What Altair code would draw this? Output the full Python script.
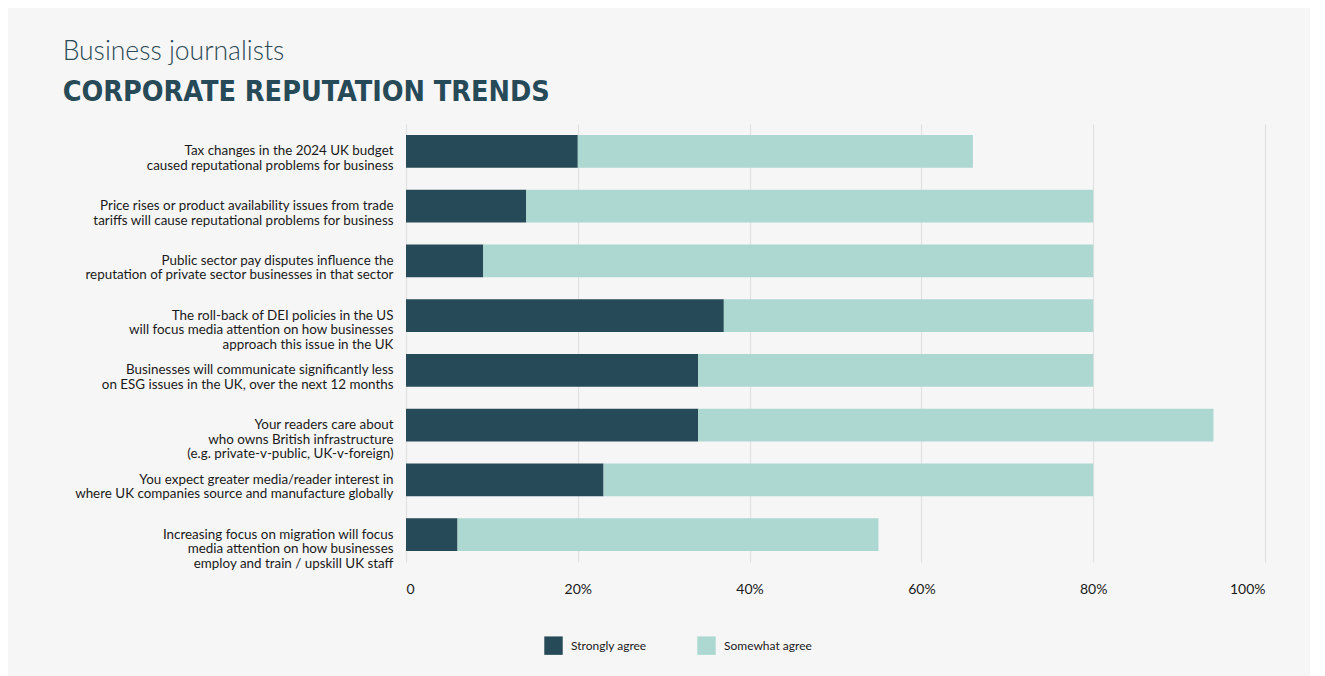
import altair as alt
import pandas as pd

categories = [
    "Tax changes in the 2024 UK budget|caused reputational problems for business",
    "Price rises or product availability issues from trade|tariffs will cause reputational problems for business",
    "Public sector pay disputes influence the|reputation of private sector businesses in that sector",
    "The roll-back of DEI policies in the US|will focus media attention on how businesses |approach this issue in the UK",
    "Businesses will communicate significantly less|on ESG issues in the UK, over the next 12 months",
    "Your readers care about|who owns British infrastructure|(e.g. private-v-public, UK-v-foreign)",
    "You expect greater media/reader interest in|where UK companies source and manufacture globally",
    "Increasing focus on migration will focus |media attention on how businesses |employ and train / upskill UK staff ",
]
strongly_agree = [20, 14, 9, 37, 34, 34, 23, 6]
somewhat_agree = [46, 66, 71, 43, 46, 60, 57, 49]
series = ["Strongly agree", "Somewhat agree"]
colors = ["#264a57", "#acd8d1"]

rows = []
for i, c in enumerate(categories):
    rows.append({"cat": c, "series": series[0], "value": strongly_agree[i], "ord": 0})
    rows.append({"cat": c, "series": series[1], "value": somewhat_agree[i], "ord": 1})
df = pd.DataFrame(rows)

chart = alt.Chart(df).mark_bar().encode(
    y=alt.Y("cat:N", sort=categories, title=None,
            scale=alt.Scale(paddingInner=0.4, paddingOuter=0.2),
            axis=alt.Axis(labelExpr="split(datum.label, '|')", labelLineHeight=14.5,
                          labelFontSize=13.4, labelFont="Lato", labelColor="#1a1a1a",
                          ticks=False, domain=False, labelPadding=13, labelLimit=400)),
    x=alt.X("value:Q", stack="zero", title=None,
            scale=alt.Scale(domain=[0, 100]),
            axis=alt.Axis(values=[0, 20, 40, 60, 80, 100],
                          labelExpr="datum.value == 0 ? '0' : datum.value + '%'",
                          labelFontSize=14, labelFont="Lato", labelColor="#1a1a1a",
                          ticks=False, domain=False, labelPadding=20,
                          grid=True, gridColor="#e2e2e2", gridWidth=1.2)),
    color=alt.Color("series:N", sort=series,
                    scale=alt.Scale(domain=series, range=colors),
                    legend=alt.Legend(title=None, orient="none", direction="horizontal",
                                      legendX=138, legendY=512,
                                      symbolType="square", symbolSize=340,
                                      symbolStrokeWidth=0, symbolOpacity=1,
                                      labelFontSize=12, labelFont="Lato",
                                      labelColor="#1a1a1a", columnPadding=50,
                                      labelOffset=8)),
    order=alt.Order("ord:Q"),
).properties(
    width=859,
    height=438,
    background="#f6f6f6",
    padding={"left": 54, "top": 31, "right": 45, "bottom": 30},
    title=alt.TitleParams(
        text="Business journalists",
        subtitle="CORPORATE REPUTATION TRENDS",
        anchor="start",
        frame="bounds",
        dx=-12,
        font="Lato",
        fontSize=26.5,
        fontWeight=300,
        color="#2b4a55",
        subtitleFont="Liberation Sans Narrow, DejaVu Sans Condensed, sans-serif",
        subtitleFontSize=28.5,
        subtitleFontWeight="bold",
        subtitleColor="#264a57",
        subtitlePadding=12,
        offset=18,
    ),
).configure_view(stroke=None)

chart.save("out.html", embed_options={"renderer": "svg", "actions": False})
